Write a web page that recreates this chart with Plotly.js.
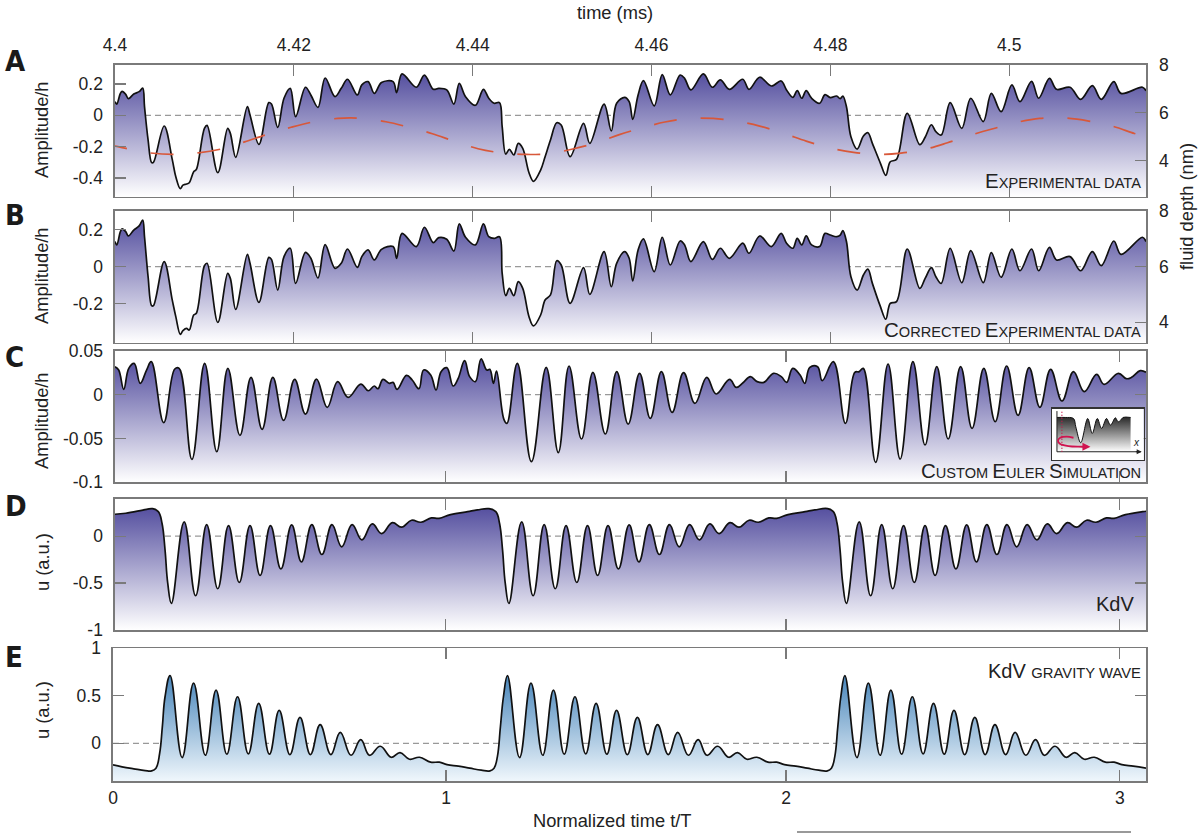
<!DOCTYPE html>
<html>
<head>
<meta charset="utf-8">
<script src="https://cdn.plot.ly/plotly-3.0.1.min.js"></script>
<style>html,body{margin:0;padding:0;background:#fff}#chart{width:1200px;height:837px}</style>
</head>
<body>
<div id="chart"></div>
<script>
// ---------- data ----------
const timeAB = [4.4000,4.4002,4.4006,4.4008,4.4012,4.4015,4.4021,4.4027,4.4031,4.4033,4.4037,4.4041,4.4043,4.4055,4.4064,4.4068,4.4073,4.4076,4.4080,4.4083,4.4088,4.4091,4.4100,4.4103,4.4115,4.4126,4.4129,4.4135,4.4148,4.4151,4.4161,4.4172,4.4175,4.4182,4.4189,4.4196,4.4202,4.4213,4.4219,4.4227,4.4235,4.4246,4.4253,4.4260,4.4271,4.4276,4.4283,4.4290,4.4298,4.4311,4.4315,4.4321,4.4337,4.4346,4.4356,4.4362,4.4371,4.4379,4.4385,4.4392,4.4403,4.4412,4.4418,4.4424,4.4430,4.4433,4.4437,4.4441,4.4446,4.4451,4.4456,4.4463,4.4468,4.4476,4.4481,4.4487,4.4494,4.4499,4.4509,4.4524,4.4531,
4.4547,4.4555,4.4561,4.4570,4.4575,4.4579,4.4585,4.4591,4.4603,4.4612,4.4621,4.4632,4.4637,4.4644,4.4658,4.4668,4.4677,4.4687,4.4702,4.4709,4.4721,4.4734,4.4745,4.4751,4.4758,4.4763,4.4768,4.4773,4.4779,4.4788,4.4794,4.4800,4.4807,4.4811,4.4814,4.4818,4.4823,4.4830,4.4837,4.4842,4.4847,4.4856,4.4862,4.4867,4.4874,4.4886,4.4900,4.4906,4.4913,4.4918,4.4924,4.4934,4.4947,4.4957,4.4971,4.4980,4.4991,4.5003,4.5012,4.5025,4.5033,4.5045,4.5053,4.5068,4.5080,4.5093,4.5103,4.5117,4.5125,4.5149,4.5153];
const ampA = [.087,.072,.140,.153,.134,.106,.136,.151,.174,.055,-.157,-.302,-.300,-.068,-.281,-.392,-.468,-.445,-.438,-.430,-.360,-.345,-.083,-.064,-.366,-.083,-.115,-.268,.055,.002,-.185,.081,.072,-.077,.109,.172,-.009,.179,.130,.051,.238,.119,.172,.230,.130,.194,.215,.140,.209,.215,.145,.264,.179,.257,.166,.172,.162,.072,.204,.119,.064,.166,.109,.077,.081,-.072,-.247,-.217,-.253,-.179,-.211,-.366,-.421,-.349,-.264,-.157,-.047,-.062,-.264,-.051,-.179,
.072,-.100,.077,.115,.087,-.026,.130,.221,.060,.260,.130,.257,.236,.162,.264,.179,.226,.166,.230,.166,.243,.187,.219,.162,.115,.157,.109,.157,.109,.077,.132,.113,.123,.106,.123,.055,-.136,-.215,-.132,-.111,-.179,-.306,-.383,-.296,-.281,.013,-.187,-.140,-.060,-.104,-.126,.081,-.083,.109,-.040,.140,.023,.194,.087,.217,.109,.236,.166,.179,.102,.189,.102,.215,.140,.179,.157];
const ampB = [.135,.117,.188,.203,.188,.165,.197,.219,.251,.161,-.054,-.210,-.210,.027,-.179,-.269,-.364,-.344,-.332,-.341,-.260,-.251,.005,.018,-.300,-.036,-.063,-.230,.066,.018,-.192,.050,.039,-.126,.054,.099,-.090,.077,.045,-.061,.118,-.009,.018,.095,-.004,.054,.090,.036,.093,.108,.045,.179,.108,.212,.129,.156,.147,.084,.230,.158,.117,.230,.161,.152,.161,-.036,-.156,-.117,-.156,-.081,-.117,-.269,-.319,-.260,-.179,-.152,.032,.009,-.197,-.005,-.149,
.081,-.108,.018,.081,.045,-.077,.090,.149,-.027,.158,.009,.138,.117,.027,.135,.039,.099,.045,.126,.072,.165,.108,.179,.126,.099,.152,.117,.165,.117,.108,.179,.170,.161,.170,.194,.135,-.054,-.126,-.045,-.013,-.090,-.215,-.283,-.197,-.188,.095,-.117,-.063,-.005,-.054,-.090,.099,-.086,.086,-.086,.075,-.057,.095,-.022,.095,-.022,.104,.036,.054,-.022,.081,.005,.138,.066,.158,.135];
const timeDepth = [4.3988,4.4000,4.4014,4.4038,4.4065,4.4093,4.4120,4.4145,4.4170,4.4197,4.4222,4.4249,4.4264,4.4275,4.4303,4.4328,4.4355,4.4379,4.4406,4.4432,4.4460,4.4486,4.4513,4.4538,4.4564,4.4589,4.4615,4.4642,4.4669,4.4696,4.4721,4.4748,4.4773,4.4799,4.4826,4.4852,4.4879,4.4905,4.4931,4.4956,4.4982,4.5008,4.5034,4.5061,4.5089,4.5115,4.5140,4.5153];
const depthNm = [4.65,4.60,4.49,4.32,4.25,4.32,4.49,4.78,5.09,5.39,5.62,5.76,5.78,5.76,5.62,5.40,5.12,4.81,4.49,4.32,4.25,4.29,4.49,4.74,5.08,5.36,5.61,5.76,5.76,5.64,5.44,5.13,4.81,4.53,4.34,4.25,4.31,4.46,4.74,5.05,5.33,5.59,5.76,5.78,5.65,5.44,5.13,4.99];
const timeC = [0,.011,.026,.041,.057,.075,.094,.108,.145,.178,.191,.229,.267,.303,.336,.372,.405,.438,.470,.502,.535,.567,.600,.632,.663,.694,.732,.754,.772,.783,.798,.817,.828,.840,.868,.885,.905,.919,.940,.956,.971,.988,1.007,1.022,1.041,1.056,1.073,1.090,1.107,1.116,1.127,1.136,1.158,1.167,1.198,1.240,1.284,1.320,1.352,1.389,1.423,1.460,1.494,1.528,1.562,1.594,1.627,1.659,1.693,1.727,1.762,1.790,1.830,1.850,1.870,1.892,1.912,1.932,1.961,1.984,2.000,2.018,2.040,2.054,2.069,2.092,2.106,2.139,2.175,2.203,2.216,2.228,2.265,2.302,2.338,2.376,2.412,2.447,2.481,2.518,2.552,2.587,2.621,2.655,2.689,2.722,2.754,2.786,2.820,2.854,2.886,2.923,2.945,2.988,3.011,3.027,3.053,3.07];
const ampC = [.0318,.0280,.0061,.0299,.0356,.0129,.0280,.0375,-.0318,.0292,.0299,-.0735,.0356,-.0648,.0299,-.0462,.0197,-.0394,.0197,-.0292,.0174,-.0220,.0178,-.0144,.0148,-.0030,.0121,.0045,.0099,.0068,.0174,.0129,.0140,.0061,.0220,.0167,.0068,.0280,.0224,.0053,.0262,.0307,.0099,.0186,.0387,.0205,.0148,.0406,.0280,.0288,.0129,.0269,-.0280,-.0326,.0356,-.0762,.0311,-.0659,.0326,-.0504,.0254,-.0447,.0262,-.0334,.0243,-.0269,.0262,-.0201,.0250,-.0099,.0197,.0008,.0174,.0083,.0136,.0205,.0148,.0140,.0243,.0205,.0140,.0299,.0224,.0129,.0311,.0318,.0159,.0375,-.0326,.0254,.0262,.0299,-.0769,.0349,-.0731,.0375,-.0572,.0318,-.0504,.0318,-.0383,.0299,-.0307,.0326,-.0235,.0307,-.0144,.0288,-.0072,.0262,.0034,.0231,.0117,.0243,.0182,.0197,.0273,.0254];
const timeD = [0,.032,.094,.112,.129,.140,.149,.157,.168,.206,.240,.273,.306,.338,.370,.402,.432,.463,.494,.526,.555,.586,.616,.646,.675,.706,.735,.766,.794,.826,.853,.883,.911,.942,.965,.999,1.050,1.079,1.113,1.134,1.145,1.154,1.162,1.173,
1.211,1.245,1.278,1.311,1.343,1.375,1.407,1.437,1.468,1.499,1.531,1.560,1.591,1.621,1.651,1.680,1.711,1.740,1.771,1.799,1.831,1.858,1.888,1.916,1.947,1.970,2.004,2.055,2.084,2.122,2.139,2.150,2.159,2.167,2.178,
2.216,2.250,2.283,2.316,2.348,2.380,2.412,2.442,2.473,2.504,2.536,2.565,2.596,2.626,2.656,2.685,2.716,2.745,2.776,2.804,2.836,2.863,2.893,2.921,2.952,2.975,3.009,3.060,3.07];
const uD = [.234,.245,.287,.294,.262,.138,-.145,-.500,-.716,.152,-.635,.124,-.560,.113,-.493,.113,-.418,.113,-.348,.121,-.273,.124,-.195,.124,-.113,.124,-.039,.131,.028,.145,.096,.170,.149,.195,.191,.230,.262,.280,.294,.262,.138,-.145,-.500,-.716,
.152,-.635,.124,-.560,.113,-.493,.113,-.418,.113,-.348,.121,-.273,.124,-.195,.124,-.113,.124,-.039,.131,.028,.145,.096,.170,.149,.195,.191,.230,.262,.280,.294,.262,.138,-.145,-.500,-.716,
.152,-.635,.124,-.560,.113,-.493,.113,-.418,.113,-.348,.121,-.273,.124,-.195,.124,-.113,.124,-.039,.131,.028,.145,.096,.170,.149,.195,.191,.230,.262,.266];
const timeE = [-.007,.020,.055,.089,.108,.121,.132,.140,.148,.163,.199,.233,.268,.300,.332,.364,.396,.427,.459,.488,.520,.550,.581,.610,.642,.670,.702,.731,.757,.789,.822,.848,.876,.906,.939,.965,.988,1.022,1.056,1.090,1.116,1.128,1.138,1.147,1.156,1.168,
1.204,1.238,1.273,1.305,1.337,1.369,1.401,1.432,1.464,1.493,1.525,1.555,1.586,1.615,1.647,1.675,1.707,1.736,1.762,1.794,1.827,1.853,1.881,1.911,1.944,1.970,1.993,2.027,2.061,2.095,2.121,2.133,2.143,2.152,2.161,2.173,
2.209,2.243,2.278,2.310,2.342,2.374,2.406,2.437,2.469,2.498,2.530,2.560,2.591,2.620,2.652,2.680,2.712,2.741,2.767,2.799,2.832,2.858,2.886,2.916,2.949,2.975,2.998,3.032,3.07];
const uE = [-.227,-.248,-.269,-.287,-.290,-.262,-.105,.175,.490,.713,-.150,.633,-.126,.560,-.115,.490,-.112,.420,-.115,.346,-.119,.273,-.119,.196,-.119,.115,-.126,.038,-.126,-.031,-.147,-.098,-.168,-.147,-.199,-.199,-.224,-.241,-.262,-.283,-.290,-.262,-.140,.175,.490,.713,
-.150,.633,-.126,.560,-.115,.490,-.112,.420,-.115,.346,-.119,.273,-.119,.196,-.119,.115,-.126,.038,-.126,-.031,-.147,-.098,-.168,-.147,-.199,-.199,-.224,-.241,-.262,-.283,-.290,-.262,-.140,.175,.490,.713,
-.150,.633,-.126,.560,-.115,.490,-.112,.420,-.115,.346,-.119,.273,-.119,.196,-.119,.115,-.126,.038,-.126,-.031,-.147,-.098,-.168,-.147,-.199,-.199,-.224,-.241,-.262];
// inset sketch (arbitrary units)
const insetX = [.054,.144,.235,.260,.314,.390,.440,.495,.542,.596,.639,.693,.722,.751,.776,.859];
const insetH = [.826,.826,.806,.645,.335,.806,.516,.806,.613,.806,.677,.819,.742,.774,.826,.826];
const arcX = [.235,.162,.09,.065,.09,.18,.289,.39];
const arcH = [.432,.452,.432,.374,.31,.271,.258,.258];
// tick labels
const msTicks = [4.4,4.42,4.44,4.46,4.48,4.5];
const msLabels = ['4.4','4.42','4.44','4.46','4.48','4.5'];
const normTicks = [-.007,.985,1.998,2.992];
const normLabels = ['0','1','2','3'];

// ---------- layout helpers ----------
const W = 1200, H = 837;
const fx = p => p / W, fy = p => 1 - p / H;
const FONT = 'Liberation Sans, Arial, sans-serif';
const INK = '#222', FRAME = '#7a7a7a';
const TICKSIZE = 17.5, TITLESIZE = 18.3;
const box = {
  a:{l:115,r:1146,t:65,b:196.7}, b:{l:115,r:1146,t:211,b:342.7}, c:{l:115,r:1146,t:350.7,b:482.3},
  d:{l:115,r:1146,t:498.7,b:630}, e:{l:113,r:1146,t:648.3,b:781.3}
};
const baseY = a => ({
  domain:[fy(a.b),fy(a.t)], showgrid:false, zeroline:false, ticks:'inside', ticklen:11, tickwidth:1.3,
  tickcolor:FRAME, showline:true, linecolor:FRAME, linewidth:1.6,
  tickfont:{family:FONT,size:TICKSIZE,color:INK}, ticklabelstandoff:7, fixedrange:true
});
const baseX = a => ({
  domain:[fx(a.l),fx(a.r)], showgrid:false, zeroline:false, ticks:'inside', ticklen:11, tickwidth:1.3,
  tickcolor:FRAME, showline:true, linecolor:FRAME, linewidth:1.6, mirror:'ticks', tickmode:'array',
  tickfont:{family:FONT,size:TICKSIZE,color:INK}, fixedrange:true
});
const purple = [[0,'#ffffff'],[1,'rgb(72,66,152)']];
const blue = [[0,'rgb(240,247,252)'],[1,'rgb(30,105,170)']];
const traces = [];
function panel(xa, ya, xr, yr, xs, ys, scale, smooth){
  traces.push({x:xr, y:[0,0], xaxis:xa, yaxis:ya, mode:'lines', line:{color:'#999',width:1.2,dash:'6px,4px'}, hoverinfo:'skip', showlegend:false});
  traces.push({x:xr, y:[yr[0],yr[0]], xaxis:xa, yaxis:ya, mode:'lines', line:{width:0}, hoverinfo:'skip', showlegend:false});
  traces.push({x:xs, y:ys, xaxis:xa, yaxis:ya, mode:'lines', line:{color:'#111',width:1.7,shape:'spline',smoothing:smooth},
    fill:'tonexty', fillgradient:{type:'vertical',start:yr[0],stop:yr[1],colorscale:scale}, hoverinfo:'skip', showlegend:false});
}
const xrAB=[4.4,4.5153], xrN=[0,3.07], xrE=[-.007,3.07];
const yrA=[-.519,.321], yrB=[-.409,.2993], yrC=[-.0996,.05], yrD=[-1,.4], yrE=[-.4,1];
panel('x','y',xrAB,yrA,timeAB,ampA,purple,1);
panel('x2','y2',xrAB,yrB,timeAB,ampB,purple,1);
panel('x3','y3',xrN,yrC,timeC,ampC,purple,1.15);
panel('x4','y4',xrN,yrD,timeD,uD,purple,1.2);
panel('x5','y5',xrE,yrE,timeE,uE,blue,1.2);
// fluid depth
traces.push({x:timeDepth,y:depthNm,xaxis:'x',yaxis:'y6',mode:'lines',line:{color:'#d8583a',width:1.7,dash:'23px,24px',shape:'spline'},hoverinfo:'skip',showlegend:false});
traces.push({x:[4.45],y:[6],xaxis:'x2',yaxis:'y7',mode:'markers',marker:{opacity:0},hoverinfo:'skip',showlegend:false});
// inset
traces.push({x:[0,1,1,0,0],y:[0,0,1,1,0],xaxis:'x6',yaxis:'y8',mode:'lines',line:{width:0},fill:'toself',fillcolor:'#fff',hoverinfo:'skip',showlegend:false});
traces.push({x:[.054,.859],y:[.16,.16],xaxis:'x6',yaxis:'y8',mode:'lines',line:{width:0},hoverinfo:'skip',showlegend:false});
traces.push({x:insetX,y:insetH,xaxis:'x6',yaxis:'y8',mode:'lines',line:{color:'#111',width:1,shape:'spline'},fill:'tonexty',
  fillgradient:{type:'vertical',start:.16,stop:.83,colorscale:[[0,'#ffffff'],[1,'#2a2a2a']]},hoverinfo:'skip',showlegend:false});
traces.push({x:[.054,.054,.97],y:[.95,.16,.16],xaxis:'x6',yaxis:'y8',mode:'lines',line:{color:'#222',width:1},hoverinfo:'skip',showlegend:false});
traces.push({x:[.108,.108],y:[.16,.97],xaxis:'x6',yaxis:'y8',mode:'lines',line:{color:'#c9184a',width:1.3,dash:'1px,2px'},hoverinfo:'skip',showlegend:false});
traces.push({x:arcX,y:arcH,xaxis:'x6',yaxis:'y8',mode:'lines',line:{color:'#d0144f',width:1.8,shape:'spline'},hoverinfo:'skip',showlegend:false});

const sc = (big,small,b,s) => `<span style="font-size:${b}px">${big}</span><span style="font-size:${s}px">${small}</span>`;
const note = (text,x,y,extra) => Object.assign({text,xref:'paper',yref:'paper',x:fx(x),y:fy(y),showarrow:false,
  font:{family:FONT,size:TITLESIZE,color:INK},xanchor:'center',yanchor:'middle'},extra||{});
const letter = (t,y) => note(t,3,y,{xanchor:'left',font:{family:'DejaVu Sans Condensed, DejaVu Sans, sans-serif',size:29,color:'#1a1a1a',weight:700}});
const BIG = 20.5, SMALL = 14.6;
const annotations = [
  note('time (ms)',615,12),
  note('Normalized time t/T',612,820),
  note('fluid depth (nm)',1186,207,{textangle:-90}),
  note('Amplitude/h',41,130,{textangle:-90}),
  note('Amplitude/h',41,276,{textangle:-90}),
  note('Amplitude/h',41,421,{textangle:-90}),
  note('u (a.u.)',42,562,{textangle:-90}),
  note('u (a.u.)',42,710,{textangle:-90}),
  letter('A',61), letter('B',215), letter('C',357), letter('D',506), letter('E',657),
  note(sc('E','XPERIMENTAL DATA',BIG,SMALL),1143,180,{xanchor:'right'}),
  note(sc('C','ORRECTED ',BIG,SMALL)+sc('E','XPERIMENTAL DATA',BIG,SMALL),1143,330,{xanchor:'right'}),
  note(sc('C','USTOM ',BIG,SMALL)+sc('E','ULER ',BIG,SMALL)+sc('S','IMULATION',BIG,SMALL),1143,470,{xanchor:'right'}),
  note('KdV',1136,604,{xanchor:'right',font:{family:FONT,size:20,color:INK}}),
  note(sc('KdV ','GRAVITY WAVE',20,14.8),1143,671,{xanchor:'right'}),
  {text:'x',xref:'x6',yref:'y8',x:.92,y:.34,showarrow:false,font:{family:FONT,size:10,color:'#222',style:'italic'}},
  {text:'',xref:'x6',yref:'y8',axref:'x6',ayref:'y8',x:.98,y:.16,ax:.9,ay:.16,showarrow:true,arrowhead:2,arrowsize:1,arrowwidth:1,arrowcolor:'#222'},
  {text:'',xref:'x6',yref:'y8',axref:'x6',ayref:'y8',x:.42,y:.258,ax:.34,ay:.258,showarrow:true,arrowhead:2,arrowsize:1,arrowwidth:1.6,arrowcolor:'#d0144f'}
];
const layout = {
  width:W, height:H, margin:{l:0,r:0,t:0,b:0}, paper_bgcolor:'#fff', plot_bgcolor:'#fff', showlegend:false,
  font:{family:FONT,size:16,color:INK}, annotations,
  shapes:[{type:'line',xref:'paper',yref:'paper',x0:fx(797),x1:fx(1131),y0:fy(832),y1:fy(832),line:{color:'#777',width:1.5}}],
  xaxis:Object.assign(baseX(box.a),{anchor:'y',side:'top',range:xrAB,tickvals:msTicks,ticktext:msLabels,ticklabelstandoff:5}),
  xaxis2:Object.assign(baseX(box.b),{anchor:'y2',range:xrAB,tickvals:msTicks,showticklabels:false}),
  xaxis3:Object.assign(baseX(box.c),{anchor:'y3',range:xrN,tickvals:normTicks,showticklabels:false}),
  xaxis4:Object.assign(baseX(box.d),{anchor:'y4',range:xrN,tickvals:normTicks,showticklabels:false}),
  xaxis5:Object.assign(baseX(box.e),{anchor:'y5',range:xrE,tickvals:normTicks,ticktext:normLabels,ticklabelstandoff:0}),
  yaxis:Object.assign(baseY(box.a),{anchor:'x',range:yrA,mirror:true,tickmode:'array',tickvals:[.2,0,-.2,-.4],ticktext:['0.2','0','-0.2','-0.4']}),
  yaxis2:Object.assign(baseY(box.b),{anchor:'x2',range:yrB,mirror:true,tickmode:'array',tickvals:[.2,0,-.2],ticktext:['0.2','0','-0.2']}),
  yaxis3:Object.assign(baseY(box.c),{anchor:'x3',range:yrC,mirror:'ticks',tickmode:'array',tickvals:[.05,0,-.05,-.0996],ticktext:['0.05','0','-0.05','-0.1']}),
  yaxis4:Object.assign(baseY(box.d),{anchor:'x4',range:yrD,mirror:'ticks',tickmode:'array',tickvals:[0,-.5,-1],ticktext:['0','-0.5','-1']}),
  yaxis5:Object.assign(baseY(box.e),{anchor:'x5',range:yrE,mirror:'ticks',tickmode:'array',tickvals:[1,.5,0],ticktext:['1','0.5','0']}),
  yaxis6:Object.assign(baseY(box.a),{anchor:'x',overlaying:'y',side:'right',range:[2.48,8],tickmode:'array',tickvals:[8,6,4],ticktext:['8','6','4'],ticklabelstandoff:8}),
  yaxis7:Object.assign(baseY(box.b),{anchor:'x2',overlaying:'y2',side:'right',range:[3.27,8],tickmode:'array',tickvals:[8,6,4],ticktext:['8','6','4'],ticklabelstandoff:8}),
  xaxis6:{domain:[fx(1052),fx(1143.5)],anchor:'y8',range:[0,1],showgrid:false,zeroline:false,showticklabels:false,ticks:'',showline:true,mirror:true,linecolor:'#333',linewidth:1.4,fixedrange:true},
  yaxis8:{domain:[fy(460),fy(408.5)],anchor:'x6',range:[0,1],showgrid:false,zeroline:false,showticklabels:false,ticks:'',showline:true,mirror:true,linecolor:'#333',linewidth:1.4,fixedrange:true}
};
Plotly.newPlot('chart',traces,layout,{displayModeBar:false,staticPlot:true});
</script>
</body>
</html>
